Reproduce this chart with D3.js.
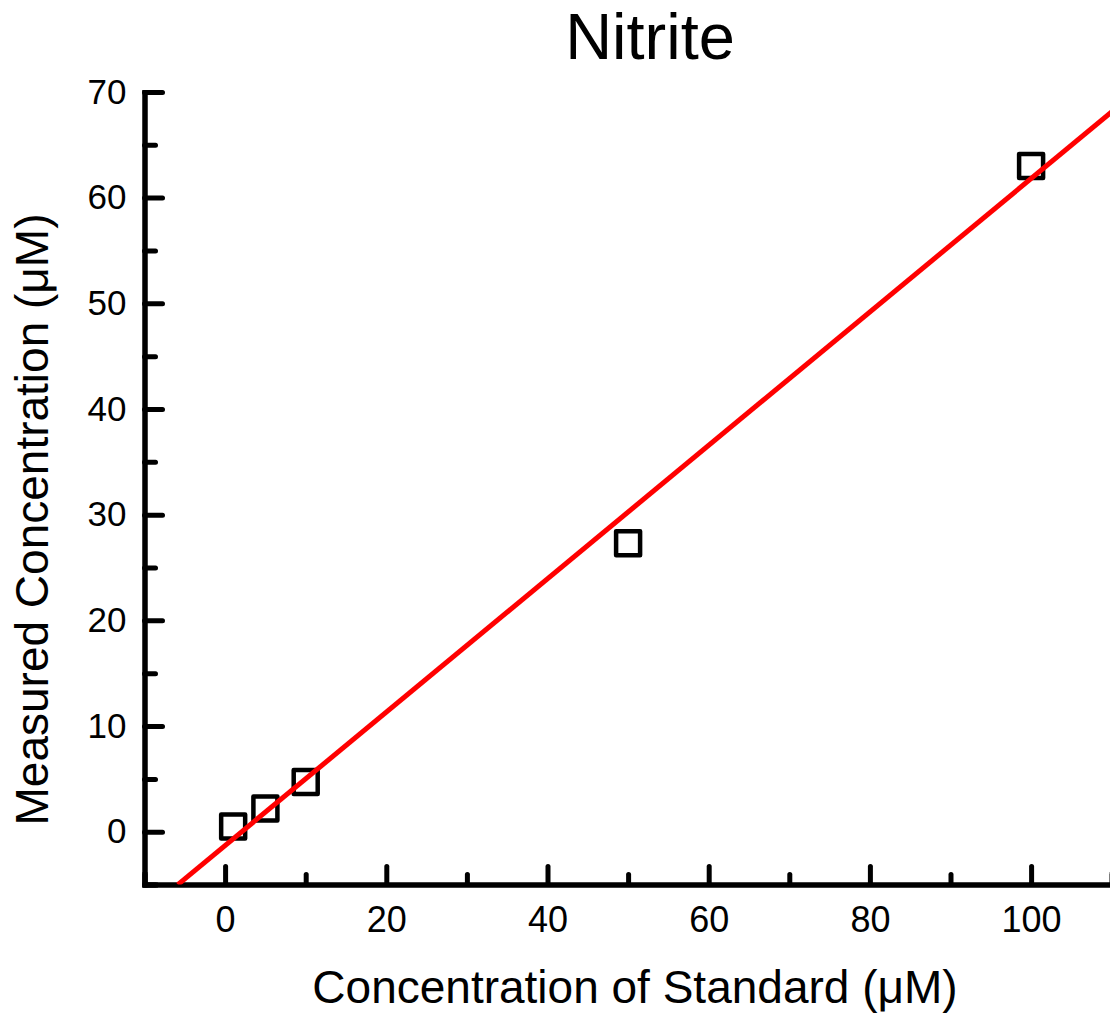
<!DOCTYPE html>
<html>
<head>
<meta charset="utf-8">
<script src="https://cdn.jsdelivr.net/npm/d3@7"></script>
<style>
  body { margin: 0; background: #fff; }
  svg { display: block; font-family: "Liberation Sans", Arial, sans-serif; }
</style>
</head>
<body>
<div id="chart"></div>
<script>
// dados
var standard = [1, 5, 10, 50, 100];
var measured = [0.5, 2.2, 4.7, 27.3, 63.0];
var xTicks = [0, 20, 40, 60, 80, 100];
var xMinor = [-10, 10, 30, 50, 70, 90, 110];
var yTicks = [0, 10, 20, 30, 40, 50, 60, 70];
var yMinor = [-5, 5, 15, 25, 35, 45, 55, 65];
// ajuste linear (inclinacao, intercepto)
var fitSlope = 0.631;
var fitIntercept = -1.3;

var svgWidth = 1110, svgHeight = 1017;

var svg = d3.select('#chart').append('svg')
    .attr('width', svgWidth)
    .attr('height', svgHeight);

var x = d3.scaleLinear().domain([-10, 110]).range([144.5, 1111.7]);
var y = d3.scaleLinear().domain([-5, 70]).range([884.6, 91.9]);

var data = standard.map(function (d, i) {
    return { x: d, y: measured[i] };
});

// Eixos menores
svg.append('g')
    .attr('transform', 'translate(0,' + y(-5) + ')')
    .call(d3.axisBottom(x).tickValues(xMinor).tickSize(-10).tickFormat(''))
    .call(styleAxis);

svg.append('g')
    .attr('transform', 'translate(' + x(-10) + ',0)')
    .call(d3.axisLeft(y).tickValues(yMinor).tickSize(-11).tickFormat(''))
    .call(styleAxis);

// Eixos principais
svg.append('g')
    .attr('transform', 'translate(0,' + y(-5) + ')')
    .call(d3.axisBottom(x).tickValues(xTicks).tickSize(-18).tickSizeOuter(0).tickPadding(22))
    .call(styleAxis)
    .selectAll('text').attr('font-size', 36);

svg.append('g')
    .attr('transform', 'translate(' + x(-10) + ',0)')
    .call(d3.axisLeft(y).tickValues(yTicks).tickSize(-18).tickSizeOuter(0).tickPadding(18))
    .call(styleAxis)
    .selectAll('text').attr('font-size', 35);

function styleAxis(g) {
    g.select('.domain')
        .attr('stroke', '#000')
        .attr('stroke-width', 5)
        .attr('stroke-linecap', 'square');
    g.selectAll('.tick line')
        .attr('stroke', '#000')
        .attr('stroke-width', 5)
        .attr('stroke-linecap', 'round');
    g.selectAll('.tick text')
        .attr('fill', '#000')
        .attr('font-family', '"Liberation Sans", Arial, sans-serif');
}

// Pontos
svg.append('g').selectAll('rect')
    .data(data)
    .enter()
    .append('rect')
    .attr('x', d => x(d.x) - 12)
    .attr('y', d => y(d.y) - 12)
    .attr('width', 24)
    .attr('height', 24)
    .attr('fill', 'none')
    .attr('stroke', '#000')
    .attr('stroke-width', 4.5)
    .attr('stroke-linejoin', 'round');

// Linha de ajuste
svg.append('clipPath').attr('id', 'plot')
    .append('rect')
    .attr('x', x(-10)).attr('y', y(70))
    .attr('width', x(110) - x(-10)).attr('height', y(-5) - y(70));

var x0 = (-5 - fitIntercept) / fitSlope;
var line = d3.line()
    .x(d => x(d))
    .y(d => y(fitSlope * d + fitIntercept));

svg.append('path')
    .datum([x0, 110])
    .attr('clip-path', 'url(#plot)')
    .attr('fill', 'none')
    .attr('stroke', '#ff0000')
    .attr('stroke-width', 5)
    .attr('d', line);

// Titulos
svg.append('text')
    .attr('x', 650).attr('y', 59)
    .attr('text-anchor', 'middle')
    .attr('font-size', 65)
    .text('Nitrite');

svg.append('text')
    .attr('x', 635).attr('y', 1003)
    .attr('text-anchor', 'middle')
    .attr('font-size', 46)
    .text('Concentration of Standard (\u03bcM)');

svg.append('text')
    .attr('transform', 'translate(48,519.5) rotate(-90)')
    .attr('text-anchor', 'middle')
    .attr('font-size', 46)
    .text('Measured Concentration (\u03bcM)');
</script>
</body>
</html>
